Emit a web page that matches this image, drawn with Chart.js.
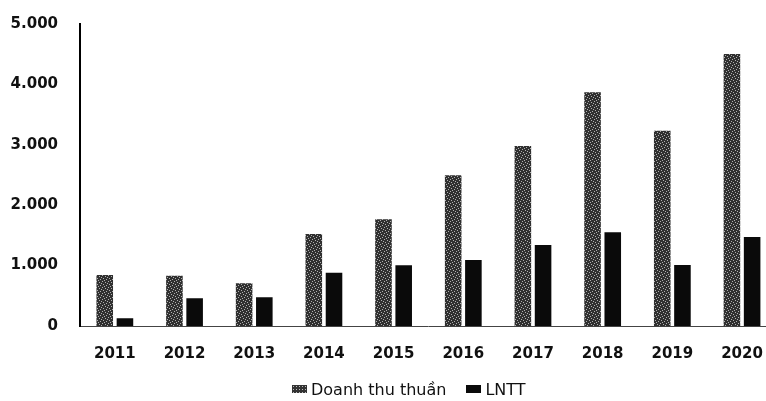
<!DOCTYPE html>
<html><head><meta charset="utf-8">
<script src="https://cdn.jsdelivr.net/npm/chart.js@4/dist/chart.umd.min.js"></script>
<style>
html,body{margin:0;padding:0;background:#fff;overflow:hidden;width:766px;height:401px;position:relative}
#wrap{width:782px;height:408px;margin-top:-7px}
#legend{position:absolute;left:292px;top:379px;font-family:'DejaVu Sans',Arial,sans-serif;font-size:16px;color:#111;white-space:nowrap;line-height:20px}
#legend .item{display:inline-block;vertical-align:middle}
#legend .box{display:inline-block;width:15px;height:8px;margin-right:4px;vertical-align:middle;position:relative;top:-1px}
#legend .b1{background-color:#333;background-image:radial-gradient(#bbb 0.6px, transparent 0.8px);background-size:3px 3px}
#legend .b2{background:#0a0a0a}
</style>
</head><body><div id="wrap"><canvas id="c" width="782" height="408"></canvas></div>
<div id="legend"></div>
<script>
const years = ['2011','2012','2013','2014','2015','2016','2017','2018','2019','2020'];
const doanhThu = [844, 833, 707, 1523, 1767, 2495, 2980, 3869, 3233, 4503];
const lntt = [127, 459, 475, 882, 1005, 1093, 1341, 1551, 1010, 1474];
const yTicks = [0, 1000, 2000, 3000, 4000, 5000];
const seriesNames = ['Doanh thu thuần', 'LNTT'];

function speckle(){
  const t = document.createElement('canvas'); t.width = 6; t.height = 6;
  const g = t.getContext('2d');
  g.fillStyle = '#303030'; g.fillRect(0,0,6,6);
  g.fillStyle = '#b0b0b0';
  [[0,0],[3,1],[1,3],[4,4],[5,2],[2,5]].forEach(p=>g.fillRect(p[0],p[1],1,1));
  return g.createPattern(t,'repeat');
}
const pat = speckle();
const fmt = v => String(v).replace(/\B(?=(\d{3})+(?!\d))/g,'.');
const FONT = 'DejaVu Sans, Arial, sans-serif';

const chart = new Chart(document.getElementById('c'), {
  type: 'bar',
  data: { labels: years, datasets: [
    { label: seriesNames[0], data: doanhThu, backgroundColor: pat, categoryPercentage: 0.58, barPercentage: 0.82 },
    { label: seriesNames[1], data: lntt, backgroundColor: '#0a0a0a', categoryPercentage: 0.58, barPercentage: 0.82 }
  ]},
  options: {
    responsive: false, animation: false,
    layout: { padding: { top: 2, right: 2, left: 0, bottom: 34 } },
    plugins: { tooltip: { enabled: false }, legend: { display: false } },
    scales: {
      x: { grid: { display: false, drawTicks: false }, border: { color: '#444', width: 1 },
        afterFit: s => { s.height = 41; },
        ticks: { color: '#111', padding: 19, font: { family: FONT, size: 15, weight: 'bold' } } },
      y: { min: 0, max: 5000, grid: { display: false, drawTicks: false }, border: { color: '#000', width: 2 },
        afterBuildTicks: s => { s.ticks = yTicks.map(v => ({ value: v })); },
        afterFit: s => { s.width = 80; },
        ticks: { color: '#111', padding: 22, callback: v => fmt(v),
          font: { family: FONT, size: 15, weight: 'bold' } } }
    }
  }
});

const lg = document.getElementById('legend');
seriesNames.forEach((n, i) => {
  const it = document.createElement('span'); it.className = 'item';
  if (i > 0) it.style.marginLeft = '20px';
  const b = document.createElement('span'); b.className = 'box ' + (i === 0 ? 'b1' : 'b2');
  it.appendChild(b); it.appendChild(document.createTextNode(n));
  lg.appendChild(it);
});
</script></body></html>
